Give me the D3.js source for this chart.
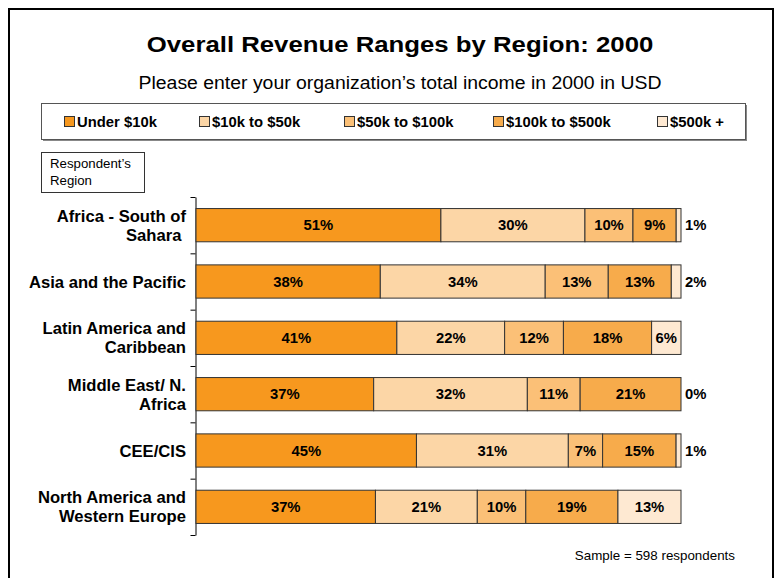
<!DOCTYPE html>
<html>
<head>
<meta charset="utf-8">
<script src="https://cdn.jsdelivr.net/npm/d3@7/dist/d3.min.js"></script>
<style>
html,body{margin:0;padding:0;background:#fff;}
svg{display:block;font-family:"Liberation Sans",Arial,sans-serif;}
</style>
</head>
<body>
<svg id="chart" width="779" height="578"></svg>
<script>
const regions = [
  ["Africa - South of", "Sahara "],
  ["Asia and the Pacific"],
  ["Latin America and", "Caribbean"],
  ["Middle East/ N.", "Africa"],
  ["CEE/CIS"],
  ["North America and", "Western Europe"]
];
const seriesNames = ["Under $10k", "$10k to $50k", "$50k to $100k", "$100k to $500k", "$500k +"];
const under10k   = [51, 38, 41, 37, 45, 37];
const k10to50    = [30, 34, 22, 32, 31, 21];
const k50to100   = [10, 13, 12, 11, 7, 10];
const k100to500  = [9, 13, 18, 21, 15, 19];
const over500k   = [1, 2, 6, 0, 1, 13];
const colors = ["#F7981E", "#FCD6A6", "#FBC077", "#F7AB4B", "#FEE9D2"];

const series = [under10k, k10to50, k50to100, k100to500, over500k];
const svg = d3.select("#chart");

function txt(x, y, s, size, opts = {}) {
  const sx = opts.sx || 1;
  const t = svg.append("text")
    .attr("transform", `translate(${x},${y}) scale(${sx},1)`)
    .attr("font-size", size)
    .attr("text-anchor", opts.anchor || "start")
    .attr("font-weight", opts.bold ? "bold" : "normal")
    .style("white-space", "pre")
    .text(s);
  return t;
}

// outer frame
svg.append("rect").attr("x", 9).attr("y", 9).attr("width", 764).attr("height", 600)
  .attr("fill", "none").attr("stroke", "#000").attr("stroke-width", 2);

txt(400, 52, "Overall Revenue Ranges by Region: 2000", 23, {anchor: "middle", bold: true, sx: 1.12});
txt(400, 89, "Please enter your organization\u2019s total income in 2000 in USD", 18.5, {anchor: "middle", sx: 1.05});

// legend
svg.append("rect").attr("x", 43).attr("y", 105).attr("width", 704).attr("height", 36).attr("fill", "#888");
svg.append("rect").attr("x", 41.5).attr("y", 103.5).attr("width", 704).attr("height", 36)
  .attr("fill", "#fff").attr("stroke", "#555").attr("stroke-width", 1);
const legendX = [64, 199, 344, 493, 657];
seriesNames.forEach((n, i) => {
  svg.append("rect").attr("x", legendX[i] + 0.5).attr("y", 116.5).attr("width", 10).attr("height", 10)
    .attr("fill", colors[i]).attr("stroke", "#333").attr("stroke-width", 1);
  txt(legendX[i] + 13, 127, n, 14, {bold: true, sx: 1.06});
});

// respondent's region box
svg.append("rect").attr("x", 41.5).attr("y", 152.5).attr("width", 103).attr("height", 40)
  .attr("fill", "#fff").attr("stroke", "#333").attr("stroke-width", 1);
txt(50, 168, "Respondent\u2019s", 12.5, {sx: 1.06});
txt(50, 185, "Region", 12.5, {sx: 1.06});

// scales
const x = d3.scaleLinear().domain([0, 1]).range([196, 681]);
const y = d3.scaleBand().domain(d3.range(regions.length)).range([197, 535]).paddingInner(0.41).paddingOuter(0.205);
const yAxisScale = d3.scaleLinear().domain([0, regions.length]).range([197, 535]);

svg.append("g").attr("transform", "translate(195.5,0)")
  .call(d3.axisLeft(yAxisScale).tickValues(d3.range(regions.length + 1)).tickFormat("").tickSize(5).tickSizeOuter(0))
  .call(g => g.selectAll("line,path").attr("stroke", "#000"));

regions.forEach((lines, r) => {
  const vals = series.map(s => s[r]);
  const total = d3.sum(vals);
  let acc = 0;
  const yc = y(r) + y.bandwidth() / 2;
  vals.forEach((v, i) => {
    const x0 = x(acc / total), x1 = x((acc + v) / total);
    acc += v;
    if (v > 0) {
      svg.append("rect").attr("x", x0).attr("y", y(r)).attr("width", x1 - x0).attr("height", y.bandwidth())
        .attr("fill", colors[i]).attr("stroke", "#333").attr("stroke-width", 1);
    }
    if (v < 3) {
      txt(x(1) + 4, yc + 5, v + "%", 14, {bold: true, sx: 1.06});
    } else {
      txt((x0 + x1) / 2, yc + 5, v + "%", 14, {bold: true, sx: 1.06, anchor: "middle"});
    }
  });
  const lh = 19;
  lines.forEach((l, k) => {
    txt(186, yc + 6 + (k - (lines.length - 1) / 2) * lh, l, 16.3, {bold: true, anchor: "end", sx: 1.02});
  });
});

txt(735, 560, "Sample = 598 respondents", 12.5, {anchor: "end", sx: 1.07});
</script>
</body>
</html>
